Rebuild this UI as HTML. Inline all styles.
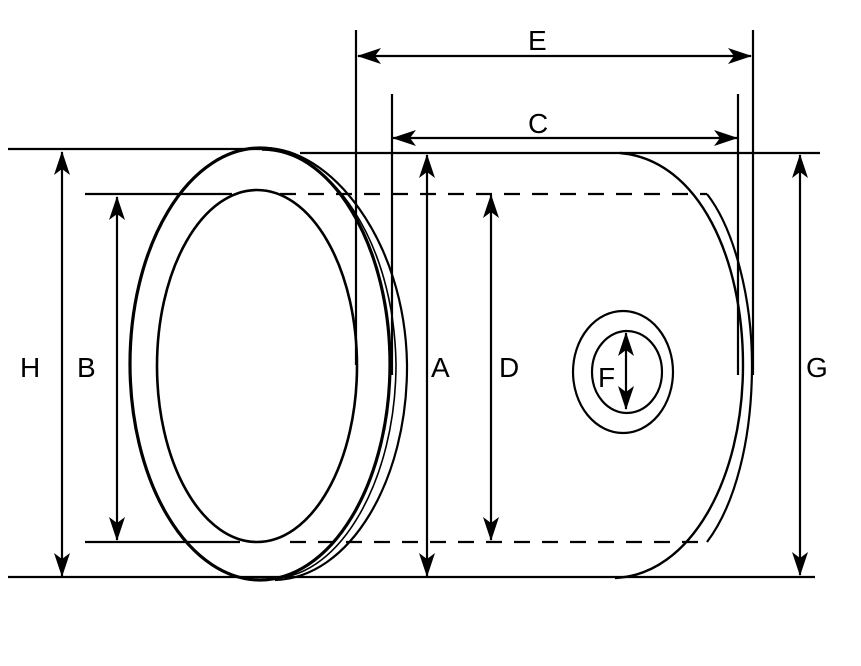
<!DOCTYPE html>
<html><head><meta charset="utf-8"><style>
html,body{margin:0;padding:0;background:#fff;}
svg{display:block}
text{font-family:"Liberation Sans",Arial,sans-serif;font-size:28px;fill:#000}
</style></head><body>
<svg width="861" height="666" viewBox="0 0 861 666" xmlns="http://www.w3.org/2000/svg">
<defs>
<marker id="ah" viewBox="0 0 24 16" refX="23" refY="8" markerWidth="24" markerHeight="16" markerUnits="userSpaceOnUse" orient="auto-start-reverse">
<path d="M0,0 L24,8 L0,16 L6,8 Z" fill="#000"/>
</marker>
</defs>
<g stroke="#000" fill="none" stroke-width="2.2">
<line x1="8" y1="149" x2="265" y2="149"/>
<line x1="300" y1="153" x2="820" y2="153"/>
<line x1="8" y1="577" x2="815" y2="577"/>
<line x1="85" y1="194" x2="232" y2="194"/>
<line x1="85" y1="542" x2="240" y2="542"/>
<line x1="280" y1="194" x2="707" y2="194" stroke-dasharray="16,12"/>
<line x1="290" y1="542" x2="707" y2="542" stroke-dasharray="16,12"/>
<line x1="356" y1="30" x2="356" y2="365"/>
<line x1="392" y1="94" x2="392" y2="375"/>
<line x1="738" y1="94" x2="738" y2="375"/>
<line x1="753" y1="30" x2="753" y2="375"/>
<ellipse cx="260" cy="364" rx="130" ry="216" stroke-width="3.2"/>
<path d="M262,148 C330,146 405,240 407,364 C408,480 350,578 275,580" stroke-width="2.2"/>
<path d="M262,150 C330,150 394,240 396,364 C396,480 340,576 275,578" stroke-width="1.6"/>
<ellipse cx="257" cy="366" rx="100" ry="176" stroke-width="2.6"/>
<path d="M620,153 C700,160 743,260 743,365 C743,480 690,575 615,578" stroke-width="2.4"/>
<path d="M707,194 C735,230 752,300 752,365 C752,440 735,505 707,542" stroke-width="2.2"/>
<ellipse cx="623" cy="372" rx="50" ry="61"/>
<ellipse cx="627" cy="372" rx="35" ry="41"/>
</g>
<g stroke="#000" stroke-width="2.2" marker-start="url(#ah)" marker-end="url(#ah)">
<line x1="358" y1="56" x2="751" y2="56"/>
<line x1="393" y1="138" x2="737" y2="138"/>
<line x1="62" y1="152" x2="62" y2="576"/>
<line x1="117" y1="197" x2="117" y2="540"/>
<line x1="427" y1="155" x2="427" y2="576"/>
<line x1="491" y1="195" x2="491" y2="540"/>
<line x1="800" y1="155" x2="800" y2="575"/>
<line x1="626" y1="333" x2="626" y2="409"/>
</g>
<text x="528" y="50">E</text>
<text x="528" y="133">C</text>
<text x="20" y="377">H</text>
<text x="77" y="377">B</text>
<text x="431" y="377">A</text>
<text x="499" y="377">D</text>
<text x="806" y="377">G</text>
<text x="598" y="387">F</text>
</svg>
</body></html>
